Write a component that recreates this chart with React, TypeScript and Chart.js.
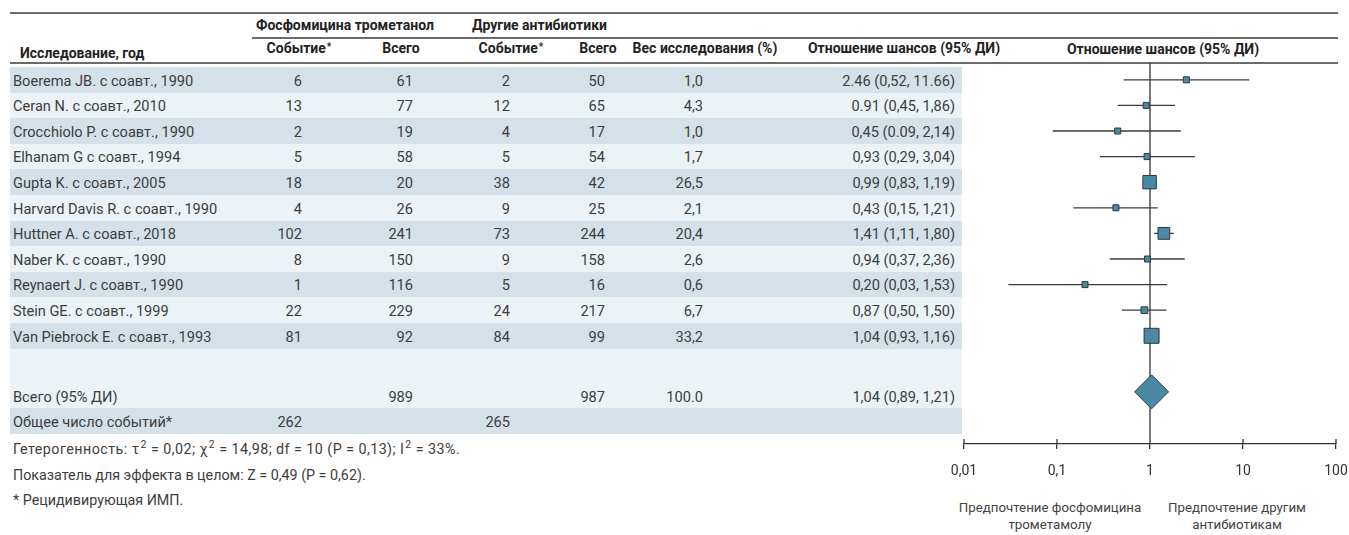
import { useEffect, useRef } from 'react';
import { Chart, registerables } from 'chart.js';

Chart.register(...registerables);

// ---- data ----
const STUDIES = [
  'Boerema JB. с соавт., 1990',
  'Ceran N. с соавт., 2010',
  'Crocchiolo P. с соавт., 1990',
  'Elhanam G с соавт., 1994',
  'Gupta K. с соавт., 2005',
  'Harvard Davis R. с соавт., 1990',
  'Huttner A. с соавт., 2018',
  'Naber K. с соавт., 1990',
  'Reynaert J. с соавт., 1990',
  'Stein GE. с соавт., 1999',
  'Van Piebrock E. с соавт., 1993',
];
const FOS_EVENTS = [6, 13, 2, 5, 18, 4, 102, 8, 1, 22, 81];
const FOS_TOTAL = [61, 77, 19, 58, 20, 26, 241, 150, 116, 229, 92];
const OTHER_EVENTS = [2, 12, 4, 5, 38, 9, 73, 9, 5, 24, 84];
const OTHER_TOTAL = [50, 65, 17, 54, 42, 25, 244, 158, 16, 217, 99];
const WEIGHTS = [1.0, 4.3, 1.0, 1.7, 26.5, 2.1, 20.4, 2.6, 0.6, 6.7, 33.2];
const ODDS = [2.46, 0.91, 0.45, 0.93, 0.99, 0.43, 1.41, 0.94, 0.2, 0.87, 1.04];
const CI_LOW = [0.52, 0.45, 0.09, 0.29, 0.83, 0.15, 1.11, 0.37, 0.03, 0.5, 0.93];
const CI_HIGH = [11.66, 1.86, 2.14, 3.04, 1.19, 1.21, 1.8, 2.36, 1.53, 1.5, 1.16];
const OR_LABELS = [
  '2.46 (0,52, 11.66)',
  '0.91 (0,45, 1,86)',
  '0,45 (0.09, 2,14)',
  '0,93 (0,29, 3,04)',
  '0,99 (0,83, 1,19)',
  '0,43 (0,15, 1,21)',
  '1,41 (1,11, 1,80)',
  '0,94 (0,37, 2,36)',
  '0,20 (0,03, 1,53)',
  '0,87 (0,50, 1,50)',
  '1,04 (0,93, 1,16)',
];
const POOLED_OR = 1.04;
const POOLED_LABEL = '1,04 (0,89, 1,21)';
const TOTAL_FOS = 989;
const TOTAL_OTHER = 987;
const TOTAL_WEIGHT_LABEL = '100.0';
const EVENTS_FOS_SUM = 262;
const EVENTS_OTHER_SUM = 265;
const AXIS_TICKS = [0.01, 0.1, 1, 10, 100];
const AXIS_LABELS = ['0,01', '0,1', '1', '10', '100'];

// ---- layout ----
const FONT = 'Roboto, "Noto Sans", sans-serif';
const TEXT = '#3d3d3d';
const HEAD = '#222';
const ROW_DARK = '#d5e1e9';
const ROW_LIGHT = '#ebf3f6';
const ROW_TOP = 67;
const ROW_H = 25.6;
const PLOT_TOP = 63;
const PLOT_BOTTOM = 444;
const AXIS_H = 40;
const POOLED_Y = 12.19; // row units
const RULE = '#6b6b6b';
const MARK_FILL = '#4a88a4';
const MARK_EDGE = '#2e3940';
const DATA_SIZE = 14.6;
const NOTE_SIZE = 14.3;

const COL_RIGHT = { ev1: 302, tot1: 413, ev2: 510, tot2: 605, w: 703, or: 955 };

const fmtWeight = (w: number) => w.toFixed(1).replace('.', ',');
const squareSide = (w: number) => Math.max(6, 2.6 * Math.sqrt(w));

function Cell({ right, children }: { right: number; children: any }) {
  return (
    <span style={{ position: 'absolute', left: right - 200, width: 200, textAlign: 'right', top: 1.5 }}>
      {children}
    </span>
  );
}

function Rule({ y, x1, x2 }: { y: number; x1: number; x2: number }) {
  return (
    <div style={{ position: 'absolute', left: x1, top: y - 0.75, width: x2 - x1, height: 1.5, background: RULE }} />
  );
}

function Star() {
  return <span style={{ fontSize: 10, verticalAlign: 'top', position: 'relative', top: -1, marginLeft: 1 }}>*</span>;
}

function Sup({ children }: { children: any }) {
  return <sup style={{ fontSize: 10.5, lineHeight: 0, marginLeft: 1 }}>{children}</sup>;
}

const refLinePlugin = {
  id: 'refLine',
  beforeDatasetsDraw(chart: any) {
    const { ctx, chartArea, scales } = chart;
    const xs = scales.x;
    const x1 = xs.getPixelForValue(1);
    ctx.save();
    ctx.strokeStyle = '#333';
    ctx.lineWidth = 1.3;
    ctx.beginPath();
    ctx.moveTo(x1, chartArea.top);
    ctx.lineTo(x1, chartArea.bottom);
    xs.ticks.forEach((t: any) => {
      const px = xs.getPixelForValue(t.value);
      ctx.moveTo(px, chartArea.bottom - 5);
      ctx.lineTo(px, chartArea.bottom);
    });
    ctx.stroke();
    ctx.restore();
  },
};

function ForestPlot() {
  const ref = useRef<HTMLCanvasElement>(null);
  useEffect(() => {
    if (!ref.current) return;
    const ciSets = STUDIES.map((_, i) => ({
      type: 'line' as const,
      data: [
        { x: CI_LOW[i], y: i },
        { x: CI_HIGH[i], y: i },
      ],
      borderColor: '#3a3a3a',
      borderWidth: 1.3,
      pointRadius: 0,
      showLine: true,
      order: 2,
    }));
    const chart = new Chart(ref.current, {
      type: 'scatter',
      data: {
        datasets: [
          {
            data: ODDS.map((v, i) => ({ x: v, y: i })),
            pointStyle: 'rect',
            pointRadius: WEIGHTS.map((w) => squareSide(w) / Math.SQRT2),
            backgroundColor: MARK_FILL,
            borderColor: MARK_EDGE,
            borderWidth: 1,
            order: 0,
          },
          {
            data: [{ x: POOLED_OR, y: POOLED_Y }],
            pointStyle: 'rectRot',
            pointRadius: 17,
            backgroundColor: MARK_FILL,
            borderColor: MARK_EDGE,
            borderWidth: 1,
            order: 0,
          },
          ...ciSets,
        ] as any,
      },
      options: {
        animation: false,
        responsive: false,
        events: [],
        layout: { autoPadding: false, padding: { left: 44, right: 44, top: 0, bottom: 0 } },
        plugins: { legend: { display: false }, tooltip: { enabled: false } },
        scales: {
          x: {
            type: 'logarithmic',
            min: 0.01,
            max: 100,
            afterBuildTicks: (scale: any) => {
              scale.ticks = AXIS_TICKS.map((v) => ({ value: v }));
            },
            afterFit: (scale: any) => {
              scale.height = AXIS_H;
            },
            border: { display: true, color: '#333', width: 1.3 },
            grid: { drawOnChartArea: false, drawTicks: true, tickLength: 5, color: '#333', lineWidth: 1.3 },
            ticks: {
              autoSkip: false,
              maxRotation: 0,
              padding: 14,
              color: '#333',
              font: { family: FONT, size: 14 },
              callback: (_v: any, index: number) => AXIS_LABELS[index],
            },
          },
          y: {
            type: 'linear',
            display: false,
            reverse: true,
            min: (PLOT_TOP - (ROW_TOP + ROW_H / 2)) / ROW_H,
            max: (PLOT_BOTTOM - (ROW_TOP + ROW_H / 2)) / ROW_H,
          },
        },
      } as any,
      plugins: [refLinePlugin],
    });
    return () => chart.destroy();
  }, []);
  return (
    <canvas
      ref={ref}
      width={460}
      height={PLOT_BOTTOM - PLOT_TOP + AXIS_H}
      style={{ position: 'absolute', left: 920, top: PLOT_TOP, width: 460, height: PLOT_BOTTOM - PLOT_TOP + AXIS_H }}
    />
  );
}

export default function App() {
  const headStyle = { position: 'absolute' as const, fontWeight: 700, fontSize: 14, color: HEAD, whiteSpace: 'nowrap' as const };
  const centered = (cx: number, y: number, content: any) => (
    <div style={{ ...headStyle, left: cx - 150, width: 300, textAlign: 'center', top: y - 9, lineHeight: '18px' }}>{content}</div>
  );
  const totalTop = ROW_TOP + STUDIES.length * ROW_H;
  const sumRowTop = 408;
  const noteStyle = { position: 'absolute' as const, left: 13, lineHeight: '20px', fontSize: NOTE_SIZE, whiteSpace: 'nowrap' as const };
  return (
    <div
      style={{
        position: 'absolute',
        left: 0,
        top: 0,
        width: 1349,
        height: 535,
        overflow: 'hidden',
        background: '#fff',
        fontFamily: FONT,
        color: TEXT,
        fontSize: DATA_SIZE,
      }}
    >
      <Rule y={13} x1={10} x2={1338} />
      <Rule y={38} x1={252} x2={1338} />
      <Rule y={63} x1={10} x2={1338} />

      <div style={{ ...headStyle, left: 256, top: 16, lineHeight: '18px' }}>Фосфомицина трометанол</div>
      <div style={{ ...headStyle, left: 472, top: 16, lineHeight: '18px' }}>Другие антибиотики</div>
      <div style={{ ...headStyle, left: 20, top: 44, lineHeight: '18px' }}>Исследование, год</div>
      {centered(299, 48, <>Событие<Star /></>)}
      {centered(401, 48, 'Всего')}
      {centered(511, 48, <>Событие<Star /></>)}
      {centered(598, 48, 'Всего')}
      {centered(705, 48, 'Вес исследования (%)')}
      {centered(904, 48, 'Отношение шансов (95% ДИ)')}
      {centered(1163, 49, 'Отношение шансов (95% ДИ)')}

      {STUDIES.map((name, i) => (
        <div
          key={name}
          style={{
            position: 'absolute',
            left: 10,
            width: 952,
            top: ROW_TOP + i * ROW_H,
            height: ROW_H,
            lineHeight: `${ROW_H}px`,
            background: i % 2 === 0 ? ROW_DARK : ROW_LIGHT,
            whiteSpace: 'nowrap',
          }}
        >
          <span style={{ position: 'absolute', left: 3, top: 1.5 }}>{name}</span>
          <Cell right={COL_RIGHT.ev1 - 10}>{FOS_EVENTS[i]}</Cell>
          <Cell right={COL_RIGHT.tot1 - 10}>{FOS_TOTAL[i]}</Cell>
          <Cell right={COL_RIGHT.ev2 - 10}>{OTHER_EVENTS[i]}</Cell>
          <Cell right={COL_RIGHT.tot2 - 10}>{OTHER_TOTAL[i]}</Cell>
          <Cell right={COL_RIGHT.w - 10}>{fmtWeight(WEIGHTS[i])}</Cell>
          <Cell right={COL_RIGHT.or - 10}>{OR_LABELS[i]}</Cell>
        </div>
      ))}

      <div
        style={{
          position: 'absolute',
          left: 10,
          width: 952,
          top: totalTop,
          height: sumRowTop - totalTop,
          background: ROW_LIGHT,
          whiteSpace: 'nowrap',
        }}
      >
        <div style={{ position: 'absolute', top: 397 - totalTop - 11.5, height: 20, lineHeight: '20px', left: 0, width: 952 }}>
          <span style={{ position: 'absolute', left: 3, top: 1.5 }}>Всего (95% ДИ)</span>
          <Cell right={COL_RIGHT.tot1 - 10}>{TOTAL_FOS}</Cell>
          <Cell right={COL_RIGHT.tot2 - 10}>{TOTAL_OTHER}</Cell>
          <Cell right={COL_RIGHT.w - 10}>{TOTAL_WEIGHT_LABEL}</Cell>
          <Cell right={COL_RIGHT.or - 10}>{POOLED_LABEL}</Cell>
        </div>
      </div>

      <div
        style={{
          position: 'absolute',
          left: 10,
          width: 952,
          top: sumRowTop,
          height: ROW_H,
          lineHeight: `${ROW_H}px`,
          background: ROW_DARK,
          whiteSpace: 'nowrap',
        }}
      >
        <span style={{ position: 'absolute', left: 3, top: 1.5 }}>Общее число событий*</span>
        <Cell right={COL_RIGHT.ev1 - 10}>{EVENTS_FOS_SUM}</Cell>
        <Cell right={COL_RIGHT.ev2 - 10}>{EVENTS_OTHER_SUM}</Cell>
      </div>

      <div style={{ ...noteStyle, top: 438.5, letterSpacing: 0.45 }}>
        Гетерогенность: τ<Sup>2</Sup> = 0,02; χ<Sup>2</Sup> = 14,98; df = 10 (P = 0,13); I<Sup>2</Sup> = 33%.
      </div>
      <div style={{ ...noteStyle, top: 464.5 }}>Показатель для эффекта в целом: Z = 0,49 (P = 0,62).</div>
      <div style={{ ...noteStyle, top: 489.5 }}>* Рецидивирующая ИМП.</div>

      <ForestPlot />

      <div style={{ position: 'absolute', left: 950, width: 200, top: 499, textAlign: 'center', lineHeight: '17px', fontSize: 13.3, color: '#444' }}>
        Предпочтение фосфомицина
        <br />
        трометамолу
      </div>
      <div style={{ position: 'absolute', left: 1137, width: 200, top: 499, textAlign: 'center', lineHeight: '17px', fontSize: 13.3, color: '#444' }}>
        Предпочтение другим
        <br />
        антибиотикам
      </div>
    </div>
  );
}
